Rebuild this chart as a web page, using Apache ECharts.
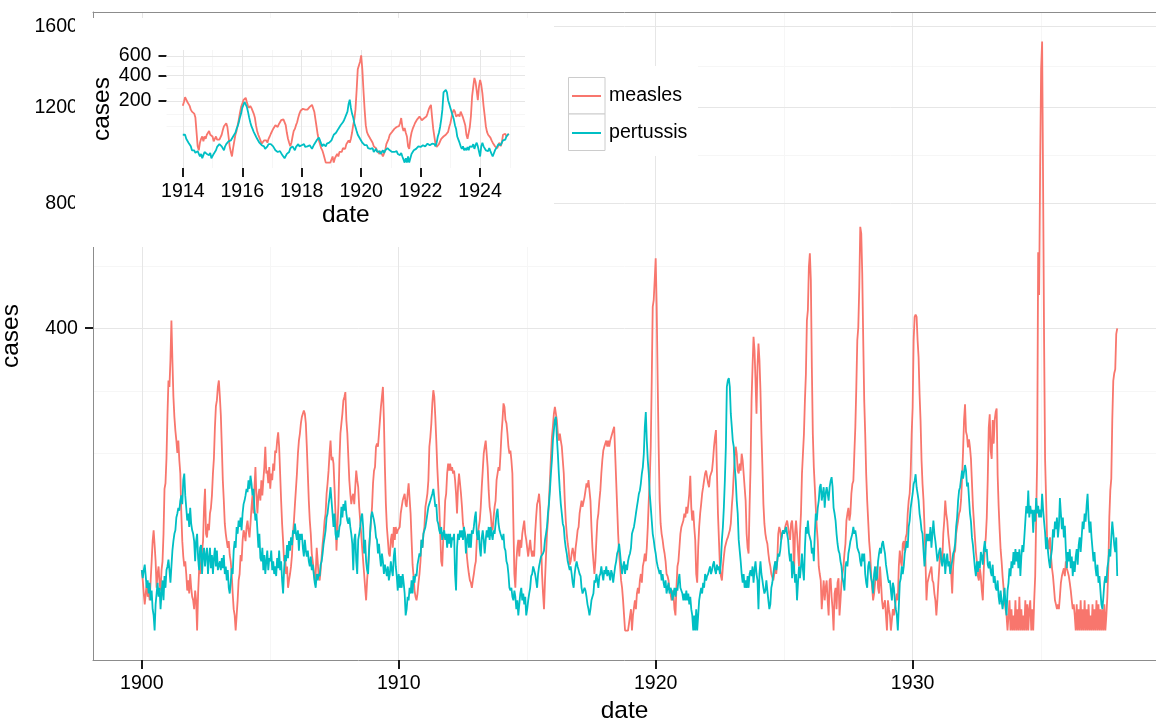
<!DOCTYPE html>
<html>
<head>
<meta charset="utf-8">
<script src="https://cdn.jsdelivr.net/npm/echarts@6/dist/echarts.min.js"></script>
<style>
html, body { margin: 0; padding: 0; background: #ffffff; }
#chart { width: 1156px; height: 719px; }
</style>
</head>
<body>
<div id="chart"></div>
<script>
// Fortnightly case counts, 26 values per year, one row per year from 1900.
const startYear = 1900;
const perYear = 26;

const measles = [
  16,11,6,3,6,10,5,7,4,11,21,35,44,32,21,8,14,18,10,7,16,21,41,88,95,130,
  203,274,260,320,421,320,240,200,175,158,138,158,127,108,60,35,24,18,21,14,7,11,6,14,8,5,
  4,2,7,4,0,6,16,14,21,28,35,66,88,41,38,50,44,60,66,80,108,130,180,220,232,260,
  274,240,203,148,99,74,50,41,35,30,35,25,21,14,6,2,1,0,1,4,11,14,25,21,35,44,
  41,35,47,53,44,38,50,66,80,60,88,117,80,60,80,88,74,99,80,99,117,148,108,112,95,117,
  88,108,99,122,112,142,138,158,172,148,108,74,50,35,21,25,14,18,8,11,14,18,25,41,53,70,
  70,108,137,158,170,188,200,206,212,206,188,148,108,74,53,41,26,21,16,11,14,30,21,13,11,16,
  24,33,41,53,60,82,95,112,137,158,127,132,122,90,60,28,47,70,127,170,188,206,232,239,249,194,
  170,132,99,82,70,78,82,70,90,112,99,90,67,53,41,30,21,14,8,4,11,18,30,41,53,67,
  95,112,117,148,153,148,170,194,219,239,260,194,117,70,47,36,26,24,36,41,30,47,36,47,41,44,
  44,47,60,67,74,78,82,70,67,82,95,97,60,36,19,13,7,5,4,6,10,14,21,36,30,41,
  47,67,74,82,99,148,164,188,226,253,239,200,158,117,90,67,41,21,18,36,47,74,82,108,122,112,
  122,112,117,108,112,99,82,60,90,108,95,82,67,50,44,41,36,24,18,14,11,10,8,11,14,18,
  21,36,41,47,53,67,90,112,137,148,158,161,117,86,67,60,47,44,56,67,74,99,108,117,112,137,
  170,194,226,219,194,188,170,148,137,142,127,108,50,14,8,21,30,36,24,36,30,41,47,53,41,36,
  36,24,30,36,28,24,28,24,41,56,70,74,82,67,36,14,6,2,11,24,41,53,74,99,132,164,
  182,206,219,222,194,170,158,170,158,148,127,108,74,53,41,33,28,19,21,26,30,26,21,30,36,44,
  47,60,67,74,67,67,78,86,95,90,99,101,74,47,30,21,14,21,36,53,60,74,86,108,127,142,
  148,153,158,148,158,148,158,164,170,176,182,137,99,67,41,26,18,11,8,4,1,0,0,0,0,0,
  0,2,0,1,1,4,2,6,8,6,11,14,10,18,21,26,21,30,47,74,99,148,274,459,478,538,
  607,459,274,148,74,50,41,36,30,26,21,14,13,11,7,6,4,7,6,2,1,8,18,21,30,41,
  47,50,53,60,56,67,60,70,82,105,67,53,63,47,36,14,10,30,47,60,70,82,90,99,108,112,
  112,95,90,104,108,112,127,148,164,176,108,60,36,18,13,11,18,24,30,33,36,38,41,44,50,67,
  82,108,132,148,137,112,108,122,112,137,127,108,90,74,41,30,26,67,117,232,305,378,344,274,206,305,
  361,320,253,170,117,70,50,41,36,33,26,21,18,14,14,11,14,21,14,21,41,47,44,36,41,44,
  41,47,50,53,47,41,36,50,53,41,14,41,53,41,28,18,41,60,107,137,169,232,289,421,450,579,
  623,537,304,169,117,90,66,47,35,18,14,11,2,6,11,4,8,11,4,1,11,12,5,2,0,6,
  8,2,10,12,1,4,10,14,18,26,33,53,60,66,53,60,82,94,98,137,181,259,369,403,517,714,
  690,558,369,232,169,107,74,53,35,26,14,8,4,6,10,16,18,8,6,18,10,4,2,3,4,1,
  0,4,2,1,0,0,2,1,1,4,6,4,18,28,21,18,33,35,28,38,41,60,74,82,107,169,
  218,369,431,437,431,369,327,245,193,127,94,74,47,21,4,10,10,14,14,18,11,10,6,4,1,4,
  10,18,28,23,21,41,53,74,60,53,41,33,26,14,6,18,26,28,41,47,53,60,63,75,101,140,
  194,224,173,166,147,160,147,129,96,68,52,38,27,21,13,11,17,13,7,4,17,29,38,56,101,180,
  205,141,129,194,153,194,209,216,106,68,45,29,21,13,8,4,2,1,0,0,4,0,2,0,1,0,
  4,0,2,0,5,0,2,0,1,0,4,0,3,0,2,4,0,2,0,4,13,56,129,627,493,943,
  1381,1520,866,365,129,77,38,35,29,38,24,17,13,8,4,3,2,3,2,5,10,13,15,17,13,21,
  17,15,13,10,7,4,2,3,1,0,3,0,2,0,4,0,2,0,4,0,2,0,3,0,1,0,
  3,0,2,0,4,0,3,0,2,0,2,0,3,0,1,5,17,56,86,101,194,273,290,299,385,400
];

const pertussis = [
  16,12,16,19,13,8,11,6,10,4,7,2,1,0,3,6,10,5,8,2,6,11,4,13,8,16,
  18,22,16,10,18,28,35,41,44,56,60,66,63,74,80,70,99,108,80,66,53,60,47,66,50,44,
  41,35,21,35,41,23,16,30,32,14,25,30,18,25,30,14,23,30,17,25,14,23,30,18,28,16,
  16,21,16,23,17,25,14,18,11,16,8,6,10,17,14,28,35,30,47,41,53,47,56,44,60,70,
  74,80,88,84,99,88,105,95,80,88,66,53,60,44,30,41,23,21,30,16,25,14,21,28,16,23,
  21,28,16,21,14,18,13,23,17,28,16,21,11,6,16,25,21,32,23,35,28,38,32,44,41,50,
  41,36,44,28,41,36,41,30,24,36,28,24,28,21,18,24,16,19,14,10,8,14,11,14,13,19,
  21,26,33,38,44,56,60,70,78,90,74,60,47,60,41,36,44,38,47,50,67,56,70,63,74,60,
  53,50,56,47,41,33,16,36,41,21,14,36,41,47,56,60,47,26,36,21,16,14,28,41,56,62,
  63,53,47,38,36,26,33,24,18,26,21,14,19,16,13,18,11,14,21,16,13,24,30,18,13,7,
  14,8,13,8,14,10,6,1,2,5,4,8,6,11,6,13,10,14,13,19,18,26,24,36,30,41,
  41,47,53,60,67,67,74,78,82,88,78,67,70,53,50,44,41,47,36,41,44,36,41,30,41,33,
  41,30,38,36,41,14,7,30,41,36,44,38,44,36,47,41,26,36,41,30,41,30,44,41,47,56,
  62,41,36,44,30,24,38,44,36,26,36,44,38,47,36,47,41,36,44,41,50,60,65,50,44,41,
  41,36,41,30,28,21,19,14,8,7,8,5,4,7,5,2,4,1,3,6,8,4,6,3,5,1,
  2,4,6,8,13,14,18,16,14,11,8,14,18,21,24,24,26,28,36,41,47,60,70,86,108,127,
  158,176,194,200,164,137,108,86,70,60,50,47,36,30,26,21,21,16,18,14,10,8,14,18,21,18,
  16,14,13,8,6,6,8,7,5,3,2,1,2,4,5,6,11,10,14,11,8,13,14,18,14,11,
  16,14,18,13,16,14,11,16,14,10,14,18,21,26,28,33,26,19,14,18,21,14,19,16,21,24,
  26,30,41,44,47,53,60,67,74,82,86,95,108,117,137,182,209,158,127,108,82,67,53,41,36,30,
  26,21,18,16,14,16,11,14,10,8,11,6,8,10,6,8,7,4,6,8,5,8,7,11,14,8,
  8,6,4,6,4,7,4,6,3,5,2,1,0,1,0,2,0,0,4,6,8,6,10,8,14,11,
  13,14,16,18,14,16,19,21,16,14,19,16,18,14,21,36,47,67,99,148,260,274,279,260,206,182,
  158,148,117,99,74,60,36,28,21,14,10,14,8,11,8,13,8,14,16,13,18,10,16,21,14,11,
  2,14,21,14,11,8,6,7,11,7,4,2,3,8,10,14,18,21,16,21,26,24,28,36,41,44,
  41,44,47,41,36,26,21,26,12,21,18,10,14,4,10,18,12,18,26,16,11,30,47,41,53,41,
  41,35,26,30,21,41,60,53,66,74,90,94,74,82,90,66,82,90,82,74,90,98,103,90,66,60,
  53,41,33,28,26,21,18,12,10,7,18,21,18,26,30,35,38,41,47,41,44,38,30,28,26,21,
  18,26,21,26,14,10,8,18,21,21,12,10,6,14,18,11,12,21,26,30,26,33,35,30,26,19,
  18,12,10,11,7,4,10,8,4,2,1,0,0,10,12,18,14,18,26,30,35,30,47,53,66,74,
  82,94,98,107,90,82,74,60,53,44,41,28,18,26,41,35,41,35,47,30,41,53,41,35,28,21,
  21,28,30,21,18,23,26,14,21,26,18,21,14,18,21,26,28,33,47,56,74,86,90,91,112,101,
  101,120,112,91,96,77,60,52,38,32,24,17,13,21,15,21,17,27,24,19,29,35,27,29,19,17,
  21,15,13,19,10,13,8,7,11,5,3,7,4,2,4,8,3,1,7,10,17,13,21,17,27,19,
  29,21,27,17,29,13,24,32,27,38,52,68,60,86,56,68,60,64,42,64,52,77,60,68,56,64,
  56,82,64,52,42,29,38,27,21,17,24,29,45,38,52,45,56,38,48,77,60,45,56,38,48,29,
  17,27,21,29,17,24,13,21,15,24,29,19,32,38,27,38,52,45,60,52,68,82,56,42,52,38,
  29,21,27,17,13,19,10,13,7,3,2,5,10,13,10,17,21,29,24,38,52,42,32,27,38,13
];

// Tick labels
const mainXTicks = [1900, 1910, 1920, 1930];
const mainYTicks = [400, 800, 1200, 1600];
const insetXTicks = [1914, 1916, 1918, 1920, 1922, 1924];
const insetYTicks = [200, 400, 600];
const insetFrom = 1914;
const insetTo = 1925;

const seriesNames = ['measles', 'pertussis'];
const seriesColors = ['#F8766D', '#00BFC4'];

const dates = measles.map((_, i) => startYear + i / perYear);

// y values are drawn on a square-root scale
function points(values, from, to) {
  const out = [];
  values.forEach((v, i) => {
    const d = dates[i];
    if (d >= from && d < to) out.push([d, Math.sqrt(v)]);
  });
  return out;
}

function expand(lo, hi) {
  const d = (hi - lo) * 0.05;
  return [lo - d, hi + d];
}

function minorBreaks(majors, lo, hi) {
  const b = majors.slice();
  const bd = b[1] - b[0];
  if (lo < b[0]) b.unshift(b[0] - bd);
  if (hi > b[b.length - 1]) b.push(b[b.length - 1] + bd);
  const out = [];
  for (let i = 0; i < b.length - 1; i++) out.push(b[i], (b[i] + b[i + 1]) / 2);
  out.push(b[b.length - 1]);
  return out.filter(v => v > lo && v < hi && !majors.some(m => Math.abs(m - v) < 1e-9));
}

function gridLines(xi, yi, xr, yr, xs, ys, color, z) {
  const data = [];
  xs.forEach(u => data.push({ coords: [[u, yr[0]], [u, yr[1]]] }));
  ys.forEach(v => data.push({ coords: [[xr[0], v], [xr[1], v]] }));
  return {
    type: 'lines', coordinateSystem: 'cartesian2d', xAxisIndex: xi, yAxisIndex: yi,
    silent: true, z: z, data: data, animation: false,
    lineStyle: { color: color, width: 1, opacity: 1, curveness: 0 }
  };
}

const allSeries = [measles, pertussis];
const mainPts = allSeries.map(s => points(s, -Infinity, Infinity));
const insetPts = allSeries.map(s => points(s, insetFrom, insetTo));

// The main panel runs past the right edge of the page: only its left part is shown.
const GRID_LEFT = 93;
const GRID_TOP = 12;
const PANEL_W = 1073;
const SHOWN_W = 1063;
const PANEL_H = 648;
const mainXFull = expand(dates[0], dates[dates.length - 1]);
const mainX = [mainXFull[0], mainXFull[0] + (mainXFull[1] - mainXFull[0]) * SHOWN_W / PANEL_W];
const mainY = expand(0, Math.sqrt(Math.max(...measles, ...pertussis)));
const insetDates = insetPts[0].map(p => p[0]);
const insetX = expand(insetDates[0], insetDates[insetDates.length - 1]);
const insetMax = Math.max(...insetPts.flat().map(p => p[1]));
const insetY = expand(0, insetMax);

const mainYMajor = mainYTicks.map(Math.sqrt);
const insetYMajor = insetYTicks.map(Math.sqrt);
// the two upper inset labels sit close together; list the middle one first so both stay visible
const insetYLabelOrder = [insetYMajor[1], insetYMajor[0], insetYMajor[2]];

const FONT = 'Liberation Sans';
const MAJOR = '#e6e6e6';
const MINOR = '#f6f6f6';
const FRAME = '#8c8c8c';
const TICK = '#1a1a1a';
const TEXT = '#000000';

// white backing of the inset plot and of its legend
const INSET_BOX = { x: 75, y: 18, width: 479, height: 229 };
const LEGEND_BOX = { x: 554, y: 66, width: 144, height: 90 };

function xAxisDef(grid, range, ticks, nameGap, z, frame) {
  return {
    type: 'value', gridIndex: grid, position: 'bottom', min: range[0], max: range[1], z: z,
    name: 'date', nameLocation: 'middle', nameGap: nameGap,
    nameTextStyle: { fontFamily: FONT, fontSize: 24.5, color: TEXT },
    axisLine: { show: frame, onZero: false, lineStyle: { color: FRAME, width: 1 } },
    axisTick: { show: !frame, customValues: ticks, length: 9, lineStyle: { color: TICK, width: 2 } },
    axisLabel: { customValues: ticks, margin: 14, fontFamily: FONT, fontSize: 19.6, color: TEXT,
      hideOverlap: false, formatter: v => String(Math.round(v)) },
    splitLine: { show: false }, minorSplitLine: { show: false }
  };
}

function yAxisDef(grid, range, majors, nameGap, z, frame) {
  return {
    type: 'value', gridIndex: grid, position: 'left', min: range[0], max: range[1], z: z,
    name: 'cases', nameLocation: 'middle', nameGap: nameGap,
    nameTextStyle: { fontFamily: FONT, fontSize: 24.5, color: TEXT },
    axisLine: { show: frame, onZero: false, lineStyle: { color: FRAME, width: 1 } },
    axisTick: { show: !frame, customValues: majors, length: 8, lineStyle: { color: TICK, width: 2 } },
    axisLabel: { customValues: majors, margin: 15, fontFamily: FONT, fontSize: 19.6, color: TEXT,
      lineHeight: 12, hideOverlap: false,
      formatter: v => String(Math.round(v * v)) },
    splitLine: { show: false }, minorSplitLine: { show: false }
  };
}

// top edge of the main panel
const topFrame = {
  type: 'value', gridIndex: 0, position: 'top', min: mainX[0], max: mainX[1], z: 4,
  axisLine: { show: true, onZero: false, lineStyle: { color: FRAME, width: 1 } },
  axisTick: { show: false }, axisLabel: { show: false },
  splitLine: { show: false }, minorSplitLine: { show: false }
};

function lineSeries(idx, pts, axisIdx, z) {
  return {
    type: 'line', name: seriesNames[idx], xAxisIndex: axisIdx, yAxisIndex: axisIdx,
    data: pts, showSymbol: false, symbol: 'none', silent: true, z: z, animation: false,
    lineStyle: { width: 1.8, color: seriesColors[idx] },
    itemStyle: { color: seriesColors[idx] }
  };
}

const baseGraphics = [
  { id: 'insetBox', type: 'rect', z: 5, silent: true, shape: INSET_BOX, style: { fill: '#ffffff' } },
  { id: 'legendBox', type: 'rect', z: 5, silent: true, shape: LEGEND_BOX, style: { fill: '#ffffff' } },
  { id: 'key0', type: 'rect', z: 20, silent: true, shape: { x: 568.5, y: 77.5, width: 36.5, height: 36.5 },
    style: { fill: '#ffffff', stroke: '#cccccc', lineWidth: 1 } },
  { id: 'key1', type: 'rect', z: 20, silent: true, shape: { x: 568.5, y: 114, width: 36.5, height: 36.5 },
    style: { fill: '#ffffff', stroke: '#cccccc', lineWidth: 1 } }
];

const option = {
  animation: false,
  textStyle: { fontFamily: FONT },
  grid: [
    { left: GRID_LEFT, top: GRID_TOP, width: SHOWN_W, height: PANEL_H, show: false,
      containLabel: false, outerBoundsMode: 'none' },
    { left: 166.5, top: 50, width: 358.5, height: 118, show: false,
      containLabel: false, outerBoundsMode: 'none' }
  ],
  xAxis: [
    xAxisDef(0, mainX, mainXTicks, 33, 4, true),
    xAxisDef(1, insetX, insetXTicks, 35, 10, false),
    topFrame
  ],
  yAxis: [
    yAxisDef(0, mainY, mainYMajor, 60, 4, true),
    yAxisDef(1, insetY, insetYLabelOrder, 48, 10, false)
  ],
  legend: {
    data: seriesNames, orient: 'vertical', left: 572, top: 77.5, padding: 0,
    itemGap: 0, itemWidth: 29, itemHeight: 2, icon: 'rect', z: 30,
    textStyle: { fontFamily: FONT, fontSize: 19.6, color: TEXT, lineHeight: 37, padding: [0, 0, 0, 3] },
    selectedMode: false
  },
  graphic: { elements: baseGraphics },
  series: [
    gridLines(0, 0, mainX, mainY, minorBreaks(mainXTicks, mainXFull[0], mainXFull[1]).filter(u => u < mainX[1]),
      minorBreaks(mainYMajor, mainY[0], mainY[1]), MINOR, 1),
    gridLines(0, 0, mainX, mainY, mainXTicks, mainYMajor, MAJOR, 1),
    lineSeries(0, mainPts[0], 0, 2),
    lineSeries(1, mainPts[1], 0, 3),
    gridLines(1, 1, insetX, insetY, minorBreaks(insetXTicks, insetX[0], insetX[1]),
      minorBreaks(insetYMajor, insetY[0], insetY[1]), MINOR, 11),
    gridLines(1, 1, insetX, insetY, insetXTicks, insetYMajor, MAJOR, 11),
    lineSeries(0, insetPts[0], 1, 12),
    lineSeries(1, insetPts[1], 1, 13)
  ]
};

const chart = echarts.init(document.getElementById('chart'), null, { renderer: 'canvas' });
chart.setOption(option);

// Outward tick marks of the main panel, placed through the main axes' scales
// (with the same linear mapping as a fallback). Marks behind the inset's white
// backing are left out, as the inset hides them.
function toPixel(x, y) {
  let p = null;
  try { p = chart.convertToPixel({ gridIndex: 0 }, [x, y]); } catch (e) { p = null; }
  if (!p || !isFinite(p[0]) || !isFinite(p[1])) {
    p = [GRID_LEFT + (x - mainX[0]) / (mainX[1] - mainX[0]) * SHOWN_W,
         GRID_TOP + PANEL_H - (y - mainY[0]) / (mainY[1] - mainY[0]) * PANEL_H];
  }
  return p;
}
function insideBox(px, py, b) {
  return px >= b.x && px <= b.x + b.width && py >= b.y && py <= b.y + b.height;
}
const tickMarks = [];
mainXTicks.forEach((t, i) => {
  const p = toPixel(t, mainY[0]);
  const x = Math.round(p[0]);
  const y = Math.round(p[1]);
  tickMarks.push({ id: 'xtick' + i, type: 'line', z: 40, silent: true,
    shape: { x1: x, y1: y, x2: x, y2: y + 9 }, style: { stroke: TICK, lineWidth: 2 } });
});
mainYMajor.forEach((v, i) => {
  const p = toPixel(mainX[0], v);
  const x = Math.round(p[0]);
  const y = Math.round(p[1]);
  if (insideBox(x - 4, y, INSET_BOX)) return;
  tickMarks.push({ id: 'ytick' + i, type: 'line', z: 40, silent: true,
    shape: { x1: x - 8, y1: y, x2: x, y2: y }, style: { stroke: TICK, lineWidth: 2 } });
});
chart.setOption({ graphic: { elements: baseGraphics.concat(tickMarks) } });
</script>
</body>
</html>
